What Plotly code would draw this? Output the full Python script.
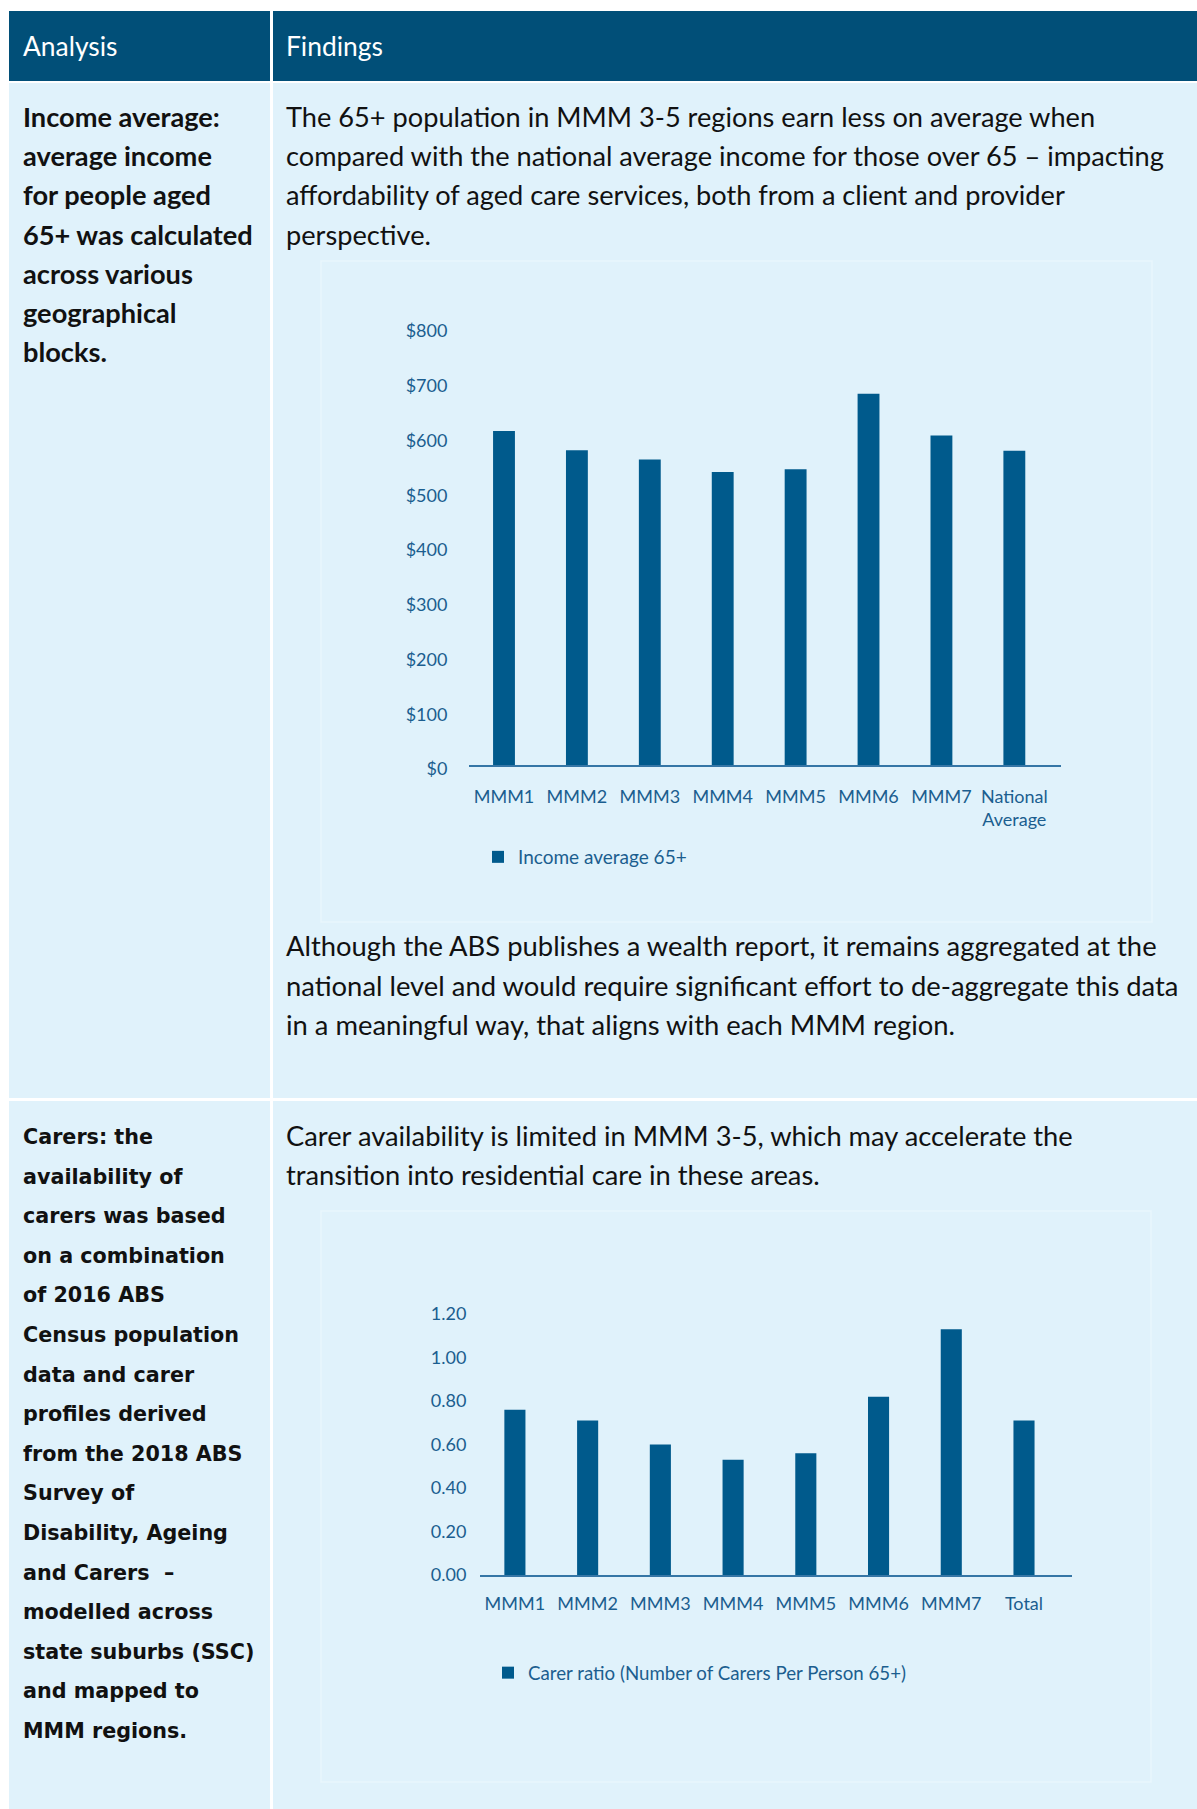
import plotly.graph_objects as go

W, H = 1197, 1809

# ---------------- data ----------------
income_categories = ["MMM1", "MMM2", "MMM3", "MMM4", "MMM5", "MMM6", "MMM7", "National<br>Average"]
income_values = [610, 575, 558, 535, 540, 678, 602, 574]
income_tickvals = [0, 100, 200, 300, 400, 500, 600, 700, 800]
income_ticktext = ["$0", "$100", "$200", "$300", "$400", "$500", "$600", "$700", "$800"]
income_series = "Income average 65+"

carer_categories = ["MMM1", "MMM2", "MMM3", "MMM4", "MMM5", "MMM6", "MMM7", "Total"]
carer_values = [0.76, 0.71, 0.60, 0.53, 0.56, 0.82, 1.13, 0.71]
carer_tickvals = [0.0, 0.2, 0.4, 0.6, 0.8, 1.0, 1.2]
carer_ticktext = ["0.00", "0.20", "0.40", "0.60", "0.80", "1.00", "1.20"]
carer_series = "Carer ratio (Number of Carers Per Person 65+)"

header_labels = ["Analysis", "Findings"]
row1_left = ["Income average:", "average income", "for people aged", "65+ was calculated",
             "across various", "geographical", "blocks."]
row1_para1 = ["The 65+ population in MMM 3-5 regions earn less on average when",
              "compared with the national average income for those over 65 \u2013 impacting",
              "affordability of aged care services, both from a client and provider",
              "perspective."]
row1_para2 = ["Although the ABS publishes a wealth report, it remains aggregated at the",
              "national level and would require significant effort to de-aggregate this data",
              "in a meaningful way, that aligns with each MMM region."]
row2_left = ["Carers: the", "availability of", "carers was based", "on a combination",
             "of 2016 ABS", "Census population", "data and carer", "profiles derived",
             "from the 2018 ABS", "Survey of", "Disability, Ageing", "and Carers  \u2013",
             "modelled across", "state suburbs (SSC)", "and mapped to", "MMM regions."]
row2_para = ["Carer availability is limited in MMM 3-5, which may accelerate the",
             "transition into residential care in these areas."]

# ---------------- styles ----------------
HEADER = "#014f78"
CELL = "#e0f2fb"
BAR = "#005a8c"
AXIS = "#3576a6"
LABEL = "#1b5e8f"
BODY = "Lato, sans-serif"
CHART_FONT = "Lato, sans-serif"


def fx(p):
    return p / W


def fy(p):
    return 1 - p / H


fig = go.Figure()

fig.add_trace(go.Bar(x=income_categories, y=income_values, name=income_series,
                     marker=dict(color=BAR, line=dict(width=0)), width=0.3,
                     xaxis="x", yaxis="y", legend="legend", hoverinfo="skip"))
fig.add_trace(go.Bar(x=carer_categories, y=carer_values, name=carer_series,
                     marker=dict(color=BAR, line=dict(width=0)), width=0.29,
                     xaxis="x2", yaxis="y2", legend="legend2", hoverinfo="skip"))

shapes = []


def rect(x0, y0, x1, y1, color, line=None):
    d = dict(type="rect", xref="paper", yref="paper", x0=fx(x0), x1=fx(x1),
             y0=fy(y1), y1=fy(y0), fillcolor=color, layer="below",
             line=dict(width=0) if line is None else line)
    shapes.append(d)


rect(9, 11, 270, 81, HEADER)
rect(273, 11, 1197, 81, HEADER)
rect(9, 83, 270, 1098, CELL)
rect(273, 83, 1197, 1098, CELL)
rect(9, 1101, 270, 1809, CELL)
rect(273, 1101, 1197, 1809, CELL)
# faint chart frames
rect(321, 261, 1152, 922, CELL, dict(color="#e8f6fd", width=1.5))
rect(321, 1211, 1151, 1782, CELL, dict(color="#e8f6fd", width=1.5))

annotations = []


def text(x, y, s, size, family, color="#111111", bold=False):
    annotations.append(dict(xref="paper", yref="paper", x=fx(x), y=fy(y), text=("<b>%s</b>" % s) if bold else s,
                            showarrow=False, xanchor="left", yanchor="middle",
                            font=dict(size=size, family=family, color=color)))


text(21, 46, header_labels[0], 26.4, BODY, "white")
text(284, 46, header_labels[1], 26.4, BODY, "white")

for i, s in enumerate(row1_left):
    text(21, 116.5 + i * 39.2, s, 27.2, BODY, bold=True)
for i, s in enumerate(row1_para1):
    text(284, 116.5 + i * 39.2, s, 27.2, BODY)
for i, s in enumerate(row1_para2):
    text(284, 946 + i * 39.2, s, 27.4, BODY)
for i, s in enumerate(row2_left):
    text(21, 1137 + i * 39.6, s, 20.7, "DejaVu Sans, sans-serif", bold=True)
for i, s in enumerate(row2_para):
    text(284, 1135.5 + i * 39.2, s, 27.3, BODY)

common_x = dict(type="category", showline=True, linecolor=AXIS, linewidth=2, showgrid=False,
                zeroline=False, ticks="outside", tickcolor="rgba(0,0,0,0)",
                tickfont=dict(size=18, family=CHART_FONT, color=LABEL), fixedrange=True,
                automargin=False)
common_y = dict(showgrid=False, showline=False, zeroline=False, ticks="outside",
                tickcolor="rgba(0,0,0,0)", tickfont=dict(size=18, family=CHART_FONT, color=LABEL),
                fixedrange=True, automargin=False)

fig.update_layout(
    width=W, height=H, margin=dict(l=0, r=0, t=0, b=0, pad=0, autoexpand=False),
    paper_bgcolor="white", plot_bgcolor="rgba(0,0,0,0)",
    shapes=shapes, annotations=annotations, showlegend=True,
    xaxis=dict(common_x, domain=[fx(469), fx(1061)], range=[-0.48, 7.64], anchor="y", ticklen=14),
    yaxis=dict(common_y, domain=[fy(765), fy(327)], range=[0, 800], tickvals=income_tickvals,
               ticktext=income_ticktext, ticklen=17, anchor="x", ticklabelshift=4),
    xaxis2=dict(common_x, domain=[fx(480), fx(1072)], range=[-0.48, 7.66], anchor="y2", ticklen=11),
    yaxis2=dict(common_y, domain=[fy(1575), fy(1314)], range=[0, 1.2], tickvals=carer_tickvals,
                ticktext=carer_ticktext, ticklen=9, anchor="x2"),
    legend=dict(x=fx(478), y=fy(857), xanchor="left", yanchor="middle", bgcolor="rgba(0,0,0,0)",
                font=dict(size=19, family=CHART_FONT, color=LABEL)),
    legend2=dict(x=fx(488), y=fy(1673), xanchor="left", yanchor="middle", bgcolor="rgba(0,0,0,0)",
                 font=dict(size=18.7, family=CHART_FONT, color=LABEL)),
)

fig.write_html("out.html")
